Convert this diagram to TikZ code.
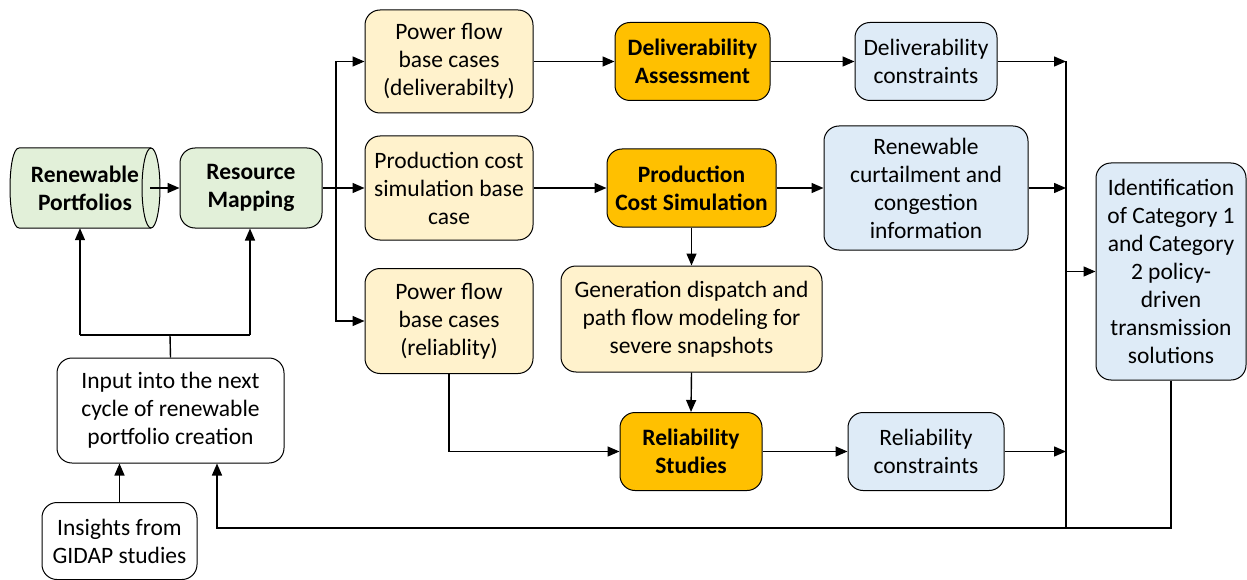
\documentclass[tikz,border=0pt]{standalone}
\usepackage{fontspec}
\setmainfont{Carlito}
\usetikzlibrary{arrows.meta,calc}
\definecolor{cgreen}{HTML}{E2F0D9}
\definecolor{cyellow}{HTML}{FFF2CC}
\definecolor{corange}{HTML}{FFC000}
\definecolor{cblue}{HTML}{DEEBF7}
\newcommand{\fsz}{\fontsize{23.5}{28}\selectfont}
\tikzset{
  box/.style={draw, rounded corners=15pt, line width=1pt, align=center, inner sep=0pt, font=\fsz},
  gbox/.style={box, fill=cgreen, font=\fsz\bfseries},
  ybox/.style={box, fill=cyellow},
  obox/.style={box, fill=corange, font=\fsz\bfseries},
  bbox/.style={box, fill=cblue},
  wbox/.style={box, fill=white},
  conn/.style={line width=1.4pt},
  arr/.style={conn, -{Triangle[length=12pt,width=10pt]}}
}
\begin{document}
\begin{tikzpicture}[x=1pt,y=-1pt]
\useasboundingbox (0,0) rectangle (1247,580);
% cylinder
\fill[cgreen] (19,148) -- (151,148) -- (151,228) -- (19,228) .. controls (7,228) and (7,148) .. (19,148) -- cycle;
\fill[cgreen] (151,188) ellipse [x radius=9, y radius=40];
\draw[line width=1pt] (19,148) -- (151,148) (19,228) -- (151,228)
  (19,148) .. controls (7,148) and (7,228) .. (19,228);
\draw[line width=1pt] (151,188) ellipse [x radius=9, y radius=40];
\node[font=\fsz\bfseries, align=center, minimum width=150pt, minimum height=80pt, inner sep=0pt] (cyl) at (85,188) {Renewable\\Portfolios};

\node[gbox, minimum width=142pt, minimum height=80pt] (rm) at (251,188) {Resource\\Mapping};
\node[ybox, minimum width=168pt, minimum height=103pt] (pfd) at (449,61.5) {Power flow\\base cases\\(deliverabilty)};
\node[ybox, minimum width=168pt, minimum height=104pt] (pcb) at (449,188) {Production cost\\simulation base\\case};
\node[ybox, minimum width=168pt, minimum height=105pt] (pfr) at (449,321) {Power flow\\base cases\\(reliablity)};
\node[obox, minimum width=155pt, minimum height=78pt] (da) at (692.5,61.5) {Deliverability\\Assessment};
\node[obox, minimum width=169pt, minimum height=78pt] (pcs) at (691.5,188) {Production\\Cost Simulation};
\node[ybox, minimum width=261pt, minimum height=106pt] (gd) at (691.5,319) {Generation dispatch and\\path flow modeling for\\severe snapshots};
\node[obox, minimum width=142pt, minimum height=78pt] (rs) at (691,451.5) {Reliability\\Studies};
\node[bbox, minimum width=142pt, minimum height=78pt] (dc) at (926,61.5) {Deliverability\\constraints};
\node[bbox, minimum width=204pt, minimum height=124pt] (rc) at (926,188) {Renewable\\curtailment and\\congestion\\information};
\node[bbox, minimum width=156pt, minimum height=78pt] (relc) at (926,451.5) {Reliability\\constraints};
\node[bbox, minimum width=150pt, minimum height=217pt] (id) at (1171,271.5) {Identification\\of Category 1\\and Category\\2 policy-\\driven\\transmission\\solutions};
\node[wbox, minimum width=227pt, minimum height=105pt] (inp) at (170.5,410.5) {Input into the next\\cycle of renewable\\portfolio creation};
\node[wbox, minimum width=155pt, minimum height=77pt] (ins) at (119.5,541) {Insights from\\GIDAP studies};

% connectors
\draw[arr] ([xshift=-10pt]cyl.east) -- (rm.west);
\coordinate (br) at (336,188);
\draw[conn] (rm.east) -- (br);
\draw[arr] (br) |- (pfd.west);
\draw[arr] (br) -- (pcb.west);
\draw[arr] (br) |- (pfr.west);
\draw[arr] (pfd.east) -- (da.west);
\draw[arr] (pcb.east) -- (pcs.west);
\draw[arr] (pcs.east) -- (rc.west);
\draw[arr] (pcs.south) -- (gd.north);
\draw[arr] (gd.south) -- (rs.north);
\draw[arr] (pfr.south) |- (rs.west);
\draw[arr] (da.east) -- (dc.west);
\draw[arr] (rs.east) -- (relc.west);
\coordinate (bt) at (1066,61.5);
\coordinate (bb) at (1066,528);
\draw[conn] (bt) -- (bb);
\draw[arr] (dc.east) -- (dc.east -| bt);
\draw[arr] (rc.east) -- (rc.east -| bt);
\draw[arr] (relc.east) -- (relc.east -| bt);
\draw[arr] (bt |- id.west) -- (id.west);
\coordinate (fb) at (217,528);
\draw[arr] (id.south) |- (fb) -- (fb |- inp.south);
\coordinate (sp) at (170,335);
\coordinate (j1) at (80,335);
\coordinate (j2) at (250,335);
\draw[conn] (inp.north) -- (sp);
\draw[conn] (j1) -- (j2);
\draw[arr] (j1) -- (j1 |- cyl.south);
\draw[arr] (j2) -- (j2 |- rm.south);
\draw[arr] (ins.north) -- (ins.north |- inp.south);
\end{tikzpicture}
\end{document}
